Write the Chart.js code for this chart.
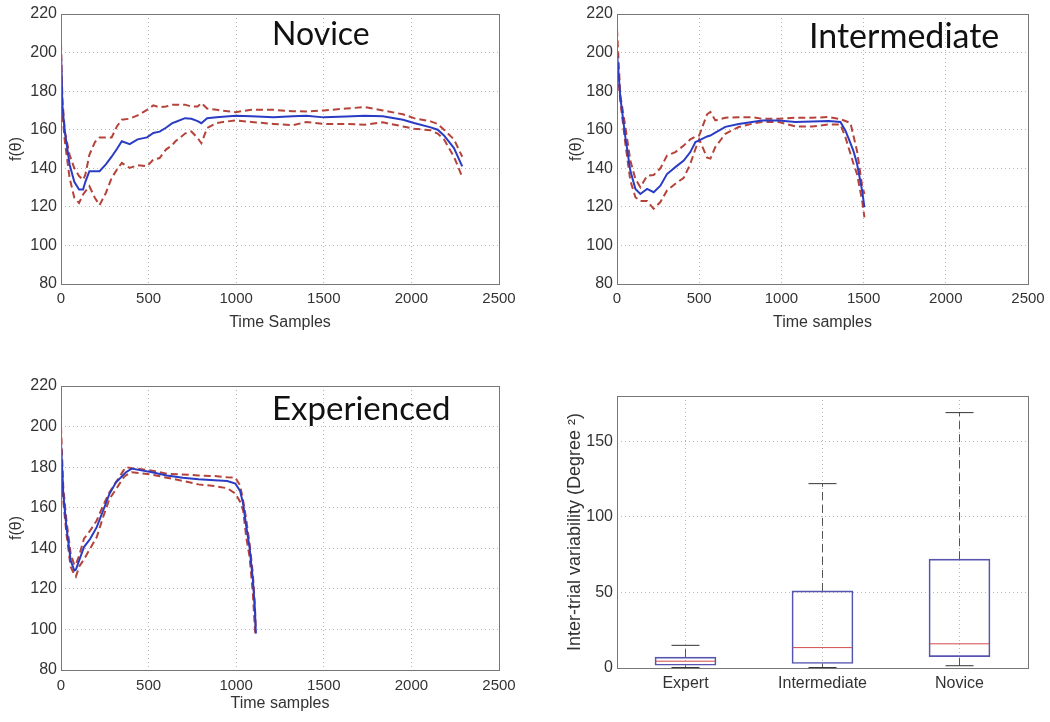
<!DOCTYPE html>
<html>
<head>
<meta charset="utf-8">
<script src="https://cdn.jsdelivr.net/npm/chart.js@4.4.1/dist/chart.umd.min.js"></script>
<style>
  body { margin: 0; background: #fff; width: 1050px; height: 722px; position: relative; overflow: hidden; }
  canvas { position: absolute; }
  .lbl { position: absolute; font-family: Lato, "Open Sans", sans-serif; font-size: 32px; line-height: 32px; color: #111; white-space: nowrap; }
</style>
</head>
<body>
<canvas id="novice" width="520" height="340" style="left:0;top:0"></canvas>
<canvas id="inter" width="494" height="340" style="left:556px;top:0"></canvas>
<canvas id="exper" width="520" height="350" style="left:0;top:372px"></canvas>
<canvas id="box" width="494" height="340" style="left:556px;top:382px"></canvas>
<div class="lbl" style="left:272px;top:17px">Novice</div>
<div class="lbl" style="left:809px;top:19px;font-size:34px">Intermediate</div>
<div class="lbl" style="left:272px;top:391px;font-size:33px">Experienced</div>
<script>
// Novice: mean and upper / lower bounds over time samples
const noviceX = [0, 8, 22, 49, 76, 103, 126, 139, 162, 193, 220, 256, 289, 319, 347, 392, 437, 491, 527, 563, 599, 635, 653, 708, 744, 780, 801, 834, 888, 924, 996, 1087, 1213, 1323, 1400, 1500, 1628, 1733, 1837, 1952, 2015, 2110, 2150, 2186, 2243, 2290];
const noviceMean = [200, 172, 159, 142, 133, 129, 129, 133, 138.5, 138.5, 138.5, 142, 146, 150, 154, 152.5, 155, 156, 158.3, 159, 161, 163.4, 164, 166, 165.7, 164.5, 163.4, 166, 166.5, 166.7, 167.2, 167, 166.5, 167, 167.3, 166.4, 166.8, 167.3, 167, 165.2, 163.5, 161.2, 160, 157, 150.5, 141];
const noviceUpper = [205, 176, 159, 147, 140, 136, 134, 136.7, 147, 153.5, 156, 156, 156, 161.7, 165.2, 165.7, 167.4, 170.3, 172.6, 171.6, 172, 173, 173, 173, 172, 172, 173.8, 171, 170.3, 169.8, 169.1, 170.3, 170.3, 169.6, 169.5, 170, 171, 171.7, 170, 168, 166, 164.3, 163, 160, 155, 146];
const noviceLower = [196, 168, 154, 135, 124.7, 122, 126.4, 128, 130.7, 124.7, 120.9, 127.2, 135, 139.3, 142.8, 140.2, 141.6, 141, 144.5, 145.3, 149.7, 152, 154, 158, 159.1, 155.7, 153, 160.9, 163.4, 164, 164.8, 164, 163, 162.3, 164, 163, 163, 162.6, 163.8, 161.7, 160.5, 159.7, 158, 155, 146, 135.5];

// Intermediate
const interX = [0, 20, 51, 81, 112, 142, 183, 223, 264, 304, 355, 406, 446, 477, 500, 548, 568, 598, 659, 740, 822, 882, 984, 1085, 1187, 1288, 1359, 1389, 1420, 1440, 1460, 1491, 1505];
const interMean = [200, 177, 156, 138.8, 129.3, 126.7, 129.3, 127.6, 131, 137, 140.6, 144, 148.4, 153.6, 154.5, 156.5, 157, 158.5, 161.5, 163, 164, 164.8, 164.8, 164, 164.3, 164.5, 164, 159.6, 153, 148.5, 142.3, 128.4, 119.8];
const interUpper = [212, 178, 161.4, 144, 134.5, 130.2, 136.2, 136.5, 140, 146.6, 148.4, 151.8, 155, 156.5, 157, 168, 169.2, 164.8, 166.2, 166.5, 166.5, 165.7, 165.7, 166.2, 166.2, 166.6, 165.5, 164.5, 163.5, 156.2, 149, 131, 126.7];
const interLower = [195, 175, 152.7, 133.6, 125, 123, 123, 119, 122.5, 128.5, 132, 135, 142.3, 150, 155, 145.5, 145, 151, 157.9, 161.4, 163.1, 164, 164, 161.7, 161.7, 162.7, 162.7, 156.2, 147.5, 142, 137, 123.2, 114.6];

// Experienced
const experX = [0, 13, 31, 55, 76, 85, 104, 131, 167, 204, 240, 276, 313, 358, 371, 404, 458, 513, 604, 695, 785, 876, 949, 995, 1022, 1040, 1058, 1076, 1095, 1107, 1112];
const experMean = [192, 166.7, 150.4, 134.1, 129, 129.5, 134.1, 140.6, 144.7, 150.4, 158.5, 166.7, 172.4, 176.4, 177.5, 179.3, 178.4, 177.6, 175.9, 174.8, 174, 173.5, 173.2, 171.9, 168.3, 161.8, 150.4, 140.6, 124.4, 109.8, 98];
const experUpper = [200, 170, 153.7, 137.4, 131.7, 132, 136.5, 144.7, 148.8, 153.7, 161, 167.5, 172.5, 178.5, 180, 179.5, 179, 178.4, 176.7, 176.4, 175.9, 175.6, 175, 174.8, 171, 163.4, 153.7, 142.5, 127.6, 111.4, 99];
const experLower = [185, 163.4, 147.2, 130.9, 127, 126, 131, 134.5, 140, 145.5, 155.3, 164.2, 169, 175, 176, 177.5, 177, 176.4, 174.8, 173.2, 171.5, 170.7, 169.6, 167, 163, 158.5, 145, 136, 118, 100, 97];

// Box plot of inter-trial variability
const groups = ['Expert', 'Intermediate', 'Novice'];
const boxMin = [0.3, 0.3, 1.5];
const boxQ1 = [1.8, 3, 7.5];
const boxMedian = [4.5, 13.5, 16];
const boxQ3 = [7.2, 51, 72];
const boxMax = [15, 122, 169];

const tickFont = { family: '"Liberation Sans", Arial, sans-serif', size: 16 };
const textColor = '#333';
const gridColor = '#b8b8b8';

// grey box around the plot area, like matlab axes
const framePlugin = {
  id: 'frame',
  afterDatasetsDraw(chart) {
    const a = chart.chartArea, ctx = chart.ctx;
    ctx.save();
    ctx.strokeStyle = '#777';
    ctx.lineWidth = 1;
    ctx.strokeRect(Math.round(a.left) + 0.5, Math.round(a.top) + 0.5, Math.round(a.right - a.left), Math.round(a.bottom - a.top));
    ctx.restore();
  }
};

function fixY(w) {
  return function (s) { s.width = w; s.paddingTop = 0; s.paddingBottom = 0; };
}
function fixX(h) {
  return function (s) { s.height = h; s.paddingLeft = 0; s.paddingRight = 0; };
}
function plain(v) { return String(v); }

function pts(xs, ys) {
  return xs.map((x, i) => ({ x: x, y: ys[i] }));
}

function lineChart(id, xs, mean, upper, lower, opts) {
  const dashed = { borderColor: '#b5433a', borderWidth: 2, borderDash: [7, 4], pointRadius: 0, tension: 0, fill: false };
  new Chart(document.getElementById(id), {
    type: 'line',
    data: {
      datasets: [
        { data: pts(xs, mean), borderColor: '#2b3cc4', borderWidth: 2, pointRadius: 0, tension: 0, fill: false },
        Object.assign({ data: pts(xs, upper) }, dashed),
        Object.assign({ data: pts(xs, lower) }, dashed)
      ]
    },
    options: {
      responsive: false,
      animation: false,
      layout: { autoPadding: false, padding: { top: 14, right: opts.right, left: 0, bottom: 0 } },
      plugins: { legend: { display: false }, tooltip: { enabled: false } },
      scales: {
        x: {
          type: 'linear', min: 0, max: 2500,
          afterFit: fixX(opts.xh),
          ticks: { stepSize: 500, autoSkip: false, maxRotation: 0, padding: opts.xpad, color: textColor, callback: plain,
                   font: { family: tickFont.family, size: 15 } },
          grid: { color: gridColor, drawTicks: false },
          border: { display: false, dash: [1, 3] },
          title: { display: true, text: opts.xTitle, color: textColor, font: tickFont, padding: { top: 0, bottom: opts.tpad } }
        },
        y: {
          min: 80, max: 220,
          afterFit: fixY(61),
          ticks: { stepSize: 20, padding: 4, color: textColor, font: tickFont, callback: plain },
          grid: { color: gridColor, drawTicks: false },
          border: { display: false, dash: [1, 3] },
          title: { display: true, text: 'f(θ)', color: textColor, font: tickFont, padding: { top: opts.ytpad, bottom: 0 } }
        }
      }
    },
    plugins: [framePlugin]
  });
}

lineChart('novice', noviceX, noviceMean, noviceUpper, noviceLower, { right: 21, xh: 56, xpad: 6, tpad: 8, ytpad: 7, xTitle: 'Time Samples' });
lineChart('inter', interX, interMean, interUpper, interLower, { right: 22, xh: 56, xpad: 6, tpad: 8, ytpad: 11, xTitle: 'Time samples' });
lineChart('exper', experX, experMean, experUpper, experLower, { right: 21, xh: 52, xpad: 7, tpad: 9, ytpad: 7, xTitle: 'Time samples' });

// box plot: floating bars for the boxes, line segments for whiskers
const whiskerStyle = { type: 'line', borderColor: '#555', borderWidth: 1, borderDash: [8, 5], pointRadius: 0, tension: 0 };
const whiskers = [];
groups.forEach((g, i) => {
  whiskers.push(Object.assign({ data: [{ x: i + 1, y: boxQ3[i] }, { x: i + 1, y: boxMax[i] }] }, whiskerStyle));
  whiskers.push(Object.assign({ data: [{ x: i + 1, y: boxMin[i] }, { x: i + 1, y: boxQ1[i] }] }, whiskerStyle));
});

new Chart(document.getElementById('box'), {
  type: 'bar',
  data: {
    datasets: [
      {
        type: 'scatter',
        data: groups.map((g, i) => ({ x: i + 1, y: boxMedian[i] })),
        pointStyle: 'line', pointRadius: 30, pointBorderColor: '#d24a4a', pointBorderWidth: 1, borderColor: '#d24a4a'
      },
      {
        type: 'scatter',
        data: groups.map((g, i) => ({ x: i + 1, y: boxMax[i] })).concat(groups.map((g, i) => ({ x: i + 1, y: boxMin[i] }))),
        pointStyle: 'line', pointRadius: 14, pointBorderColor: '#333', pointBorderWidth: 1, borderColor: '#333'
      },
      {
        type: 'bar',
        data: groups.map((g, i) => ({ x: i + 1, y: [boxQ1[i], boxQ3[i]] })),
        backgroundColor: 'rgba(0,0,0,0)', borderColor: '#5555b0', borderWidth: 1, borderSkipped: false,
        barThickness: 61
      }
    ].concat(whiskers)
  },
  options: {
    responsive: false,
    animation: false,
    layout: { autoPadding: false, padding: { top: 14, right: 22, left: 0, bottom: 0 } },
    plugins: { legend: { display: false }, tooltip: { enabled: false } },
    scales: {
      x: {
        type: 'linear', min: 0.5, max: 3.5, offset: false,
        afterFit: fixX(54),
        afterBuildTicks: function (s) { s.ticks = groups.map((g, i) => ({ value: i + 1 })); },
        ticks: { autoSkip: false, maxRotation: 0, padding: 6, color: textColor, font: tickFont,
                 callback: function (v) { return groups[v - 1]; } },
        grid: { color: gridColor, drawTicks: false, offset: false },
        border: { display: false, dash: [1, 3] }
      },
      y: {
        min: 0, max: 180,
        afterFit: fixY(61),
        ticks: { stepSize: 50, includeBounds: false, padding: 4, color: textColor, font: tickFont, callback: plain },
        grid: { color: gridColor, drawTicks: false },
        border: { display: false, dash: [1, 3] },
        title: { display: true, text: 'Inter-trial variability (Degree ²)', color: textColor,
                 font: { family: tickFont.family, size: 18 }, padding: { top: 8, bottom: 0 } }
      }
    }
  },
  plugins: [framePlugin]
});
</script>
</body>
</html>
